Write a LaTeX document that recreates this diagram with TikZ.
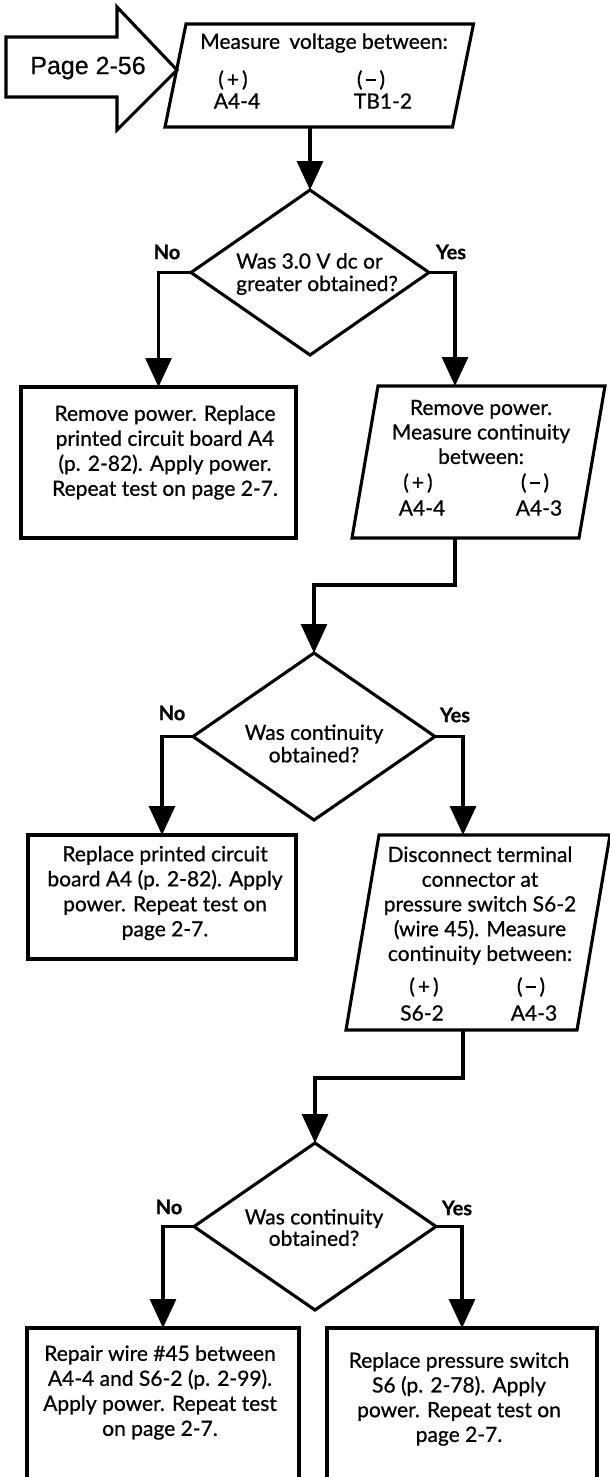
\documentclass[tikz,border=0pt]{standalone}
\usepackage{fontspec}
\setmainfont{Lato}[FakeBold=0.7]
\newfontfamily\arialfont{Liberation Sans}[FakeBold=0.5]
\usetikzlibrary{arrows.meta,shapes.geometric}
\newcommand{\plusm}{(\hspace{3pt}+\hspace{3pt})}
\newcommand{\minusm}{(\hspace{3pt}\rule[0.27em]{0.52em}{1.7pt}\hspace{3pt})}
\begin{document}
\begin{tikzpicture}[x=1pt,y=-1pt,
  lw/.style={line width=3.1pt},
  region/.style={draw=none,inner sep=0pt,outer sep=0pt,rectangle},
  outline/.style={lw,line join=miter},
  boxr/.style={draw,lw,rectangle,inner sep=0pt,outer sep=0pt},
  decision/.style={draw,lw,diamond,inner sep=0pt,outer sep=0pt},
  arr/.style={lw,-{Triangle[width=26pt,length=29pt]}},
  txt/.style={font=\fontsize{21}{25}\selectfont,align=center,inner sep=0pt},
  dtxt/.style={font=\fontsize{21}{22.5}\selectfont,align=center,inner sep=0pt},
  yn/.style={font=\bfseries\fontsize{20}{22}\selectfont,inner sep=0pt}]
\useasboundingbox (0,0) rectangle (610,1477);
\clip (0,0) rectangle (610,1477);

% entry block arrow
\draw[outline] (6,37) -- (117,37) -- (117,7) -- (177,70) -- (117,130) -- (117,97) -- (6,97) -- cycle;
\node[inner sep=0pt,font=\arialfont\fontsize{25}{27}\selectfont] (pg) at (88,68) {Page 2-56};

% parallelogram 1
\node[region,minimum width=287.5pt,minimum height=103pt] (p1) at (319.25,75.5) {};
\draw[outline] ([xshift=10.5pt]p1.north west) -- ([xshift=10.5pt]p1.north east) -- ([xshift=-10.5pt]p1.south east) -- ([xshift=-10.5pt]p1.south west) -- cycle;
\node[txt] (p1t) at (324,43) {Measure\hspace{4pt} voltage between:};
\node[txt] (p1a) at (233,80) {\plusm};
\node[txt] (p1b) at (371,80) {\minusm};
\node[txt] (p1c) at (237,101) {A4-4};
\node[txt] (p1d) at (383,101) {TB1-2};

% decision 1
\node[decision,minimum width=238pt,minimum height=165pt] (d1) at (310,272.5) {};
\node[dtxt,align=left,anchor=west] (d1t) at (236,274) {Was 3.0 V dc or\\greater obtained?};
\node[yn] (n1) at (167,252) {No};
\node[yn] (y1) at (451,252) {Yes};

% box 2
\node[boxr,minimum width=275pt,minimum height=151pt] (b2) at (158.5,462.5) {};
\node[txt] (b2t) at (165,452.5) {Remove power. Replace\\printed circuit board A4\\(p. 2-82). Apply power.\\Repeat test on page 2-7.};

% parallelogram 2
\node[region,minimum width=227pt,minimum height=152pt] (p2) at (478.5,462) {};
\draw[outline] ([xshift=13pt]p2.north west) -- ([xshift=13pt]p2.north east) -- ([xshift=-13pt]p2.south east) -- ([xshift=-13pt]p2.south west) -- cycle;
\node[txt,font=\fontsize{21}{24.5}\selectfont] (p2t) at (481,432) {Remove power.\\Measure continuity\\between:};
\node[txt] (p2a) at (418,483) {\plusm};
\node[txt] (p2b) at (535,483) {\minusm};
\node[txt] (p2c) at (422,508) {A4-4};
\node[txt] (p2d) at (539,508) {A4-3};

% decision 2
\node[decision,minimum width=242pt,minimum height=167pt] (d2) at (314,736.5) {};
\node[dtxt] (d2t) at (314,743.5) {Was continuity\\obtained?};
\node[yn] (n2) at (172,713) {No};
\node[yn] (y2) at (455,715) {Yes};

% box 4
\node[boxr,minimum width=268pt,minimum height=124pt] (b4) at (162,897) {};
\node[txt] (b4t) at (165,893) {Replace printed circuit\\board A4 (p. 2-82). Apply\\power. Repeat test on\\page 2-7.};

% parallelogram 3
\node[region,minimum width=231pt,minimum height=195pt] (p3) at (478,932.5) {};
\draw[outline] ([xshift=16.5pt]p3.north west) -- ([xshift=16.5pt]p3.north east) -- ([xshift=-16.5pt]p3.south east) -- ([xshift=-16.5pt]p3.south west) -- cycle;
\node[txt,font=\fontsize{21}{24.75}\selectfont] (p3t) at (480,905.5) {Disconnect terminal\\connector at\\pressure switch S6-2\\(wire 45). Measure\\continuity between:};
\node[txt] (p3a) at (424,987) {\plusm};
\node[txt] (p3b) at (531,987) {\minusm};
\node[txt] (p3c) at (422,1013) {S6-2};
\node[txt] (p3d) at (534,1013) {A4-3};

% decision 3
\node[decision,minimum width=242pt,minimum height=167pt] (d3) at (315,1226.5) {};
\node[dtxt,font=\fontsize{21}{21.5}\selectfont] (d3t) at (314,1227.5) {Was continuity\\obtained?};
\node[yn] (n3) at (169,1207) {No};
\node[yn] (y3) at (457,1208) {Yes};

% boxes 5 and 6
\node[boxr,minimum width=272pt,minimum height=200pt] (b5) at (163,1428) {};
\node[txt] (b5t) at (160,1392.5) {Repair wire \#45 between\\A4-4 and S6-2 (p. 2-99).\\Apply power. Repeat test\\on page 2-7.};
\node[boxr,minimum width=270pt,minimum height=200pt] (b6) at (462,1428) {};
\node[txt,font=\fontsize{21}{24.7}\selectfont] (b6t) at (459,1399) {Replace pressure switch\\S6 (p. 2-78). Apply\\power. Repeat test on\\page 2-7.};

% connectors
\draw[arr] (p1.south -| d1.north) -- (d1.north);
\draw[arr] (d1.west) -| (b2.north);
\draw[arr] (d1.east) -| ([xshift=-23.5pt]p2.north);
\draw[arr] ([xshift=-23.5pt]p2.south) -- ++(0,47) -| (d2.north);
\draw[arr] (d2.west) -| (b4.north);
\draw[arr] (d2.east) -| ([xshift=-15pt]p3.north);
\draw[arr] ([xshift=-15pt]p3.south) -- ++(0,48) -| (d3.north);
\draw[arr] (d3.west) -| (b5.north);
\draw[arr] (d3.east) -| (b6.north);
\end{tikzpicture}
\end{document}
